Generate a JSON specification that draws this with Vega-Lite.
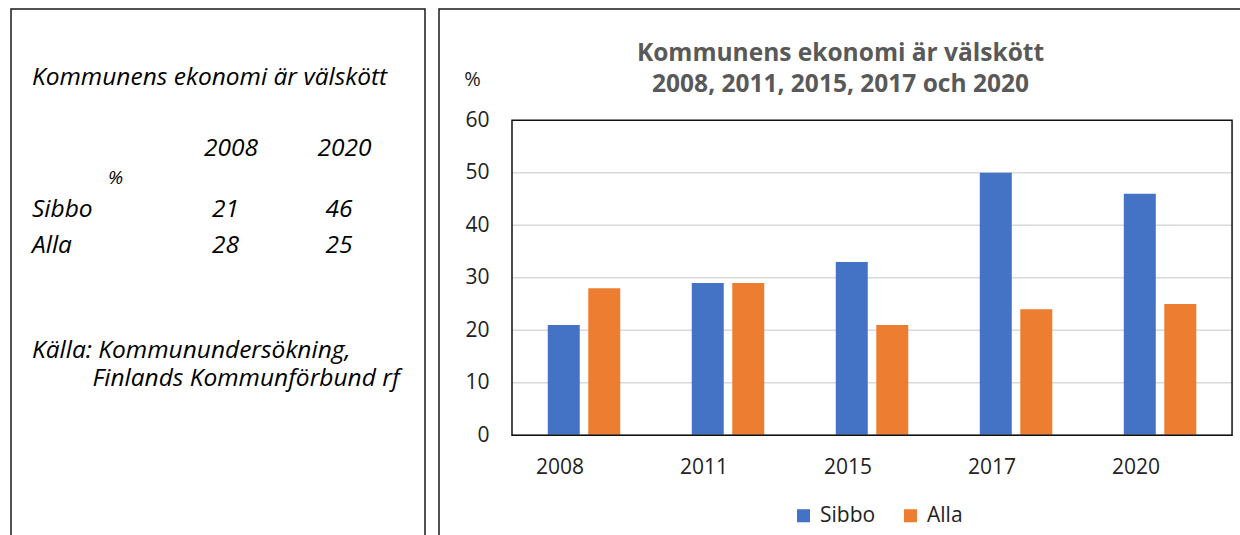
{
  "$schema": "https://vega.github.io/schema/vega-lite/v6.json",
  "padding": {"left": 10, "top": 8, "right": 0, "bottom": 0},
  "background": "white",
  "spacing": 12,
  "config": {"view": {"stroke": "#1a1a1a", "strokeWidth": 1.5}, "font": "Open Sans"},
  "resolve": {"legend": {"color": "independent"}},
  "datasets": {
    "survey": [
      {"year": "2008", "series": "Sibbo", "value": 21},
      {"year": "2008", "series": "Alla", "value": 28},
      {"year": "2011", "series": "Sibbo", "value": 29},
      {"year": "2011", "series": "Alla", "value": 29},
      {"year": "2015", "series": "Sibbo", "value": 33},
      {"year": "2015", "series": "Alla", "value": 21},
      {"year": "2017", "series": "Sibbo", "value": 50},
      {"year": "2017", "series": "Alla", "value": 24},
      {"year": "2020", "series": "Sibbo", "value": 46},
      {"year": "2020", "series": "Alla", "value": 25}
    ]
  },
  "hconcat": [
    {
      "width": 414,
      "height": 527,
      "resolve": {"scale": {"x": "independent", "y": "independent"}},
      "layer": [
        {
          "data": {"name": "survey"},
          "transform": [{"filter": {"field": "year", "oneOf": ["2008", "2020"]}}],
          "mark": {"type": "text", "fontStyle": "italic", "fontSize": 24.5, "align": "center", "baseline": "middle", "color": "black"},
          "encoding": {
            "x": {"field": "year", "type": "nominal", "scale": {"type": "point", "domain": ["2008", "2020"], "range": [214.5, 328], "padding": 0}, "axis": null},
            "y": {"field": "series", "type": "nominal", "scale": {"type": "point", "domain": ["Sibbo", "Alla"], "range": [201, 237], "padding": 0}, "axis": null},
            "text": {"field": "value", "type": "quantitative"}
          }
        },
        {
          "data": {"name": "survey"},
          "transform": [
            {"filter": {"field": "year", "oneOf": ["2008", "2020"]}},
            {"aggregate": [{"op": "count", "as": "n"}], "groupby": ["year"]}
          ],
          "mark": {"type": "text", "fontStyle": "italic", "fontSize": 24.5, "align": "center", "baseline": "middle", "color": "black"},
          "encoding": {
            "x": {"field": "year", "type": "nominal", "scale": {"type": "point", "domain": ["2008", "2020"], "range": [220, 333.5], "padding": 0}, "axis": null},
            "y": {"datum": "header", "type": "nominal", "scale": {"type": "point", "domain": ["header"], "range": [140, 140], "padding": 0}, "axis": null},
            "text": {"field": "year", "type": "nominal"}
          }
        },
        {
          "data": {"name": "survey"},
          "transform": [{"aggregate": [{"op": "count", "as": "n"}], "groupby": ["series"]}],
          "mark": {"type": "text", "fontStyle": "italic", "fontSize": 24.5, "align": "left", "baseline": "middle", "color": "black"},
          "encoding": {
            "x": {"datum": "label", "type": "nominal", "scale": {"type": "point", "domain": ["label"], "range": [21, 21], "padding": 0}, "axis": null},
            "y": {"field": "series", "type": "nominal", "scale": {"type": "point", "domain": ["Sibbo", "Alla"], "range": [201, 237], "padding": 0}, "axis": null},
            "text": {"field": "series", "type": "nominal"}
          }
        },
        {
          "data": {"values": [{"note": "Kommunens ekonomi är välskött", "line": "title", "col": "label"}]},
          "mark": {"type": "text", "fontStyle": "italic", "fontSize": 24.5, "align": "left", "baseline": "middle", "color": "black"},
          "encoding": {
            "x": {"field": "col", "type": "nominal", "scale": {"type": "point", "domain": ["label"], "range": [21, 21], "padding": 0}, "axis": null},
            "y": {"field": "line", "type": "nominal", "scale": {"type": "point", "domain": ["title"], "range": [68.7, 68.7], "padding": 0}, "axis": null},
            "text": {"field": "note", "type": "nominal"}
          }
        },
        {
          "data": {"values": [
            {"note": "Källa: Kommunundersökning,", "line": "source1", "col": "label"},
            {"note": "Finlands Kommunförbund rf", "line": "source2", "col": "indent"}
          ]},
          "mark": {"type": "text", "fontStyle": "italic", "fontSize": 24.5, "align": "left", "baseline": "middle", "color": "black"},
          "encoding": {
            "x": {"field": "col", "type": "nominal", "scale": {"type": "point", "domain": ["label", "indent"], "range": [21, 81.5], "padding": 0}, "axis": null},
            "y": {"field": "line", "type": "nominal", "scale": {"type": "point", "domain": ["source1", "source2"], "range": [341.5, 369.5], "padding": 0}, "axis": null},
            "text": {"field": "note", "type": "nominal"}
          }
        },
        {
          "data": {"values": [{"note": "%", "line": "unit", "col": "unit"}]},
          "mark": {"type": "text", "fontStyle": "italic", "fontSize": 19, "align": "left", "baseline": "middle", "color": "black"},
          "encoding": {
            "x": {"field": "col", "type": "nominal", "scale": {"type": "point", "domain": ["unit"], "range": [97, 97], "padding": 0}, "axis": null},
            "y": {"field": "line", "type": "nominal", "scale": {"type": "point", "domain": ["unit"], "range": [169, 169], "padding": 0}, "axis": null},
            "text": {"field": "note", "type": "nominal"}
          }
        }
      ]
    },
    {
      "width": 803,
      "height": 527,
      "title": {
        "text": ["Kommunens ekonomi är välskött", "2008, 2011, 2015, 2017 och 2020"],
        "fontSize": 24.5,
        "fontWeight": "bold",
        "color": "#595959",
        "lineHeight": 31.6,
        "offset": -89,
        "anchor": "middle",
        "font": "Open Sans"
      },
      "layer": [
        {
          "data": {"values": [{"grid": 10}, {"grid": 20}, {"grid": 30}, {"grid": 40}, {"grid": 50}]},
          "mark": {"type": "rule", "color": "#D9D9D9", "strokeWidth": 1.5},
          "encoding": {
            "y": {"field": "grid", "type": "quantitative", "scale": {"domain": [-19.2, 81.18], "nice": false, "zero": false}},
            "x": {"datum": "2008", "type": "nominal", "bandPosition": 0, "scale": {"paddingInner": 0, "paddingOuter": 0.288, "align": 0.88}},
            "x2": {"datum": "2020", "bandPosition": 1}
          }
        },
        {
          "data": {"name": "survey"},
          "mark": {"type": "bar"},
          "encoding": {
            "x": {
              "field": "year", "type": "nominal",
              "scale": {"paddingInner": 0, "paddingOuter": 0.288, "align": 0.88},
              "axis": {"title": null, "orient": "bottom", "offset": -100.8, "domain": false, "ticks": false, "grid": false, "labelAngle": 0, "labelPadding": 31.8, "labelBaseline": "middle", "labelFontSize": 21, "labelColor": "#222222", "labelFont": "Open Sans"}
            },
            "xOffset": {"field": "series", "type": "nominal", "sort": ["Sibbo", "Alla"], "scale": {"paddingInner": 0.21, "paddingOuter": 0.883}},
            "y": {
              "field": "value", "type": "quantitative", "stack": null,
              "scale": {"domain": [-19.2, 81.18], "nice": false, "zero": false},
              "axis": {"title": "%", "titleAngle": 0, "titleX": -40, "titleY": 70, "titleAlign": "center", "titleBaseline": "middle", "titleFontSize": 20, "titleFontWeight": "normal", "titleColor": "#222222", "titleFont": "Open Sans", "values": [0, 10, 20, 30, 40, 50, 60], "offset": -73, "domain": false, "ticks": false, "grid": false, "labelPadding": 23, "labelFontSize": 21, "labelColor": "#222222", "labelFont": "Open Sans"}
            },
            "y2": {"datum": 0},
            "color": {
              "field": "series", "type": "nominal",
              "scale": {"domain": ["Sibbo", "Alla"], "range": ["#4472C4", "#ED7D31"]},
              "legend": {"title": null, "orient": "none", "legendX": 354, "legendY": 496, "direction": "horizontal", "symbolType": "square", "symbolSize": 170, "symbolStrokeWidth": 0, "labelFontSize": 21, "labelFont": "Open Sans", "labelColor": "#222222", "labelOffset": 6, "columnPadding": 24, "padding": 0}
            }
          }
        },
        {
          "data": {"values": [{"base": 0}]},
          "mark": {"type": "rule", "color": "#A6A6A6", "strokeWidth": 1.5},
          "encoding": {
            "y": {"field": "base", "type": "quantitative", "scale": {"domain": [-19.2, 81.18], "nice": false, "zero": false}},
            "x": {"datum": "2008", "type": "nominal", "bandPosition": 0, "scale": {"paddingInner": 0, "paddingOuter": 0.288, "align": 0.88}},
            "x2": {"datum": "2020", "bandPosition": 1}
          }
        },
        {
          "data": {"values": [{"low": 0, "high": 60}]},
          "mark": {"type": "rect", "fillOpacity": 0, "stroke": "#111111", "strokeWidth": 1.5},
          "encoding": {
            "y": {"field": "low", "type": "quantitative", "scale": {"domain": [-19.2, 81.18], "nice": false, "zero": false}},
            "y2": {"field": "high"},
            "x": {"datum": "2008", "type": "nominal", "bandPosition": 0, "scale": {"paddingInner": 0, "paddingOuter": 0.288, "align": 0.88}},
            "x2": {"datum": "2020", "bandPosition": 1}
          }
        }
      ]
    }
  ]
}
